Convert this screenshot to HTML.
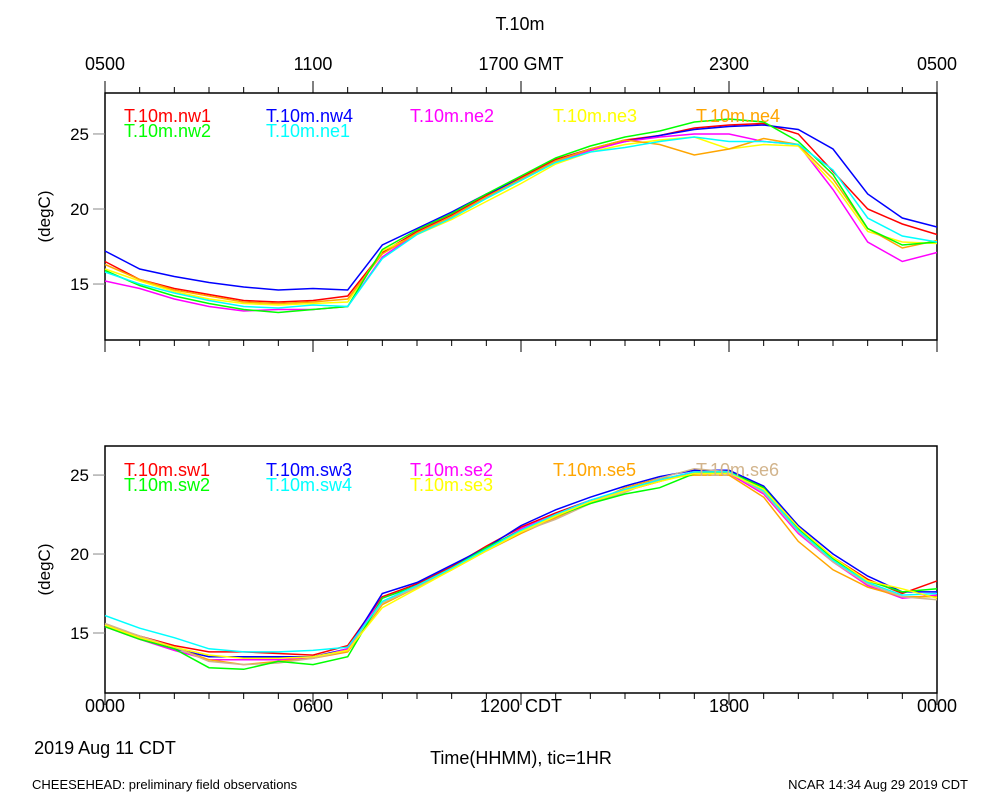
<!DOCTYPE html>
<html><head><meta charset="utf-8"><style>
body{margin:0;background:#fff;font-family:"Liberation Sans",sans-serif}
svg text{font-family:"Liberation Sans",sans-serif}
</style></head><body>
<svg id="c" width="1000" height="800" xmlns="http://www.w3.org/2000/svg">
<text x="520" y="30" font-size="18" text-anchor="middle">T.10m</text>
<g id="top"></g><g id="bot"></g>
<text x="105" y="754" font-size="18" text-anchor="middle">2019 Aug 11 CDT</text>
<text x="521" y="764" font-size="18" text-anchor="middle">Time(HHMM), tic=1HR</text>
<text x="32" y="789" font-size="13">CHEESEHEAD: preliminary field observations</text>
<text x="968" y="789" font-size="13" text-anchor="end">NCAR 14:34 Aug 29 2019 CDT</text>
</svg>
<script>
const hours=[0,1,2,3,4,5,6,7,8,9,10,11,12,13,14,15,16,17,18,19,20,21,22,23,24];
const topLabels=["0500","1100","1700 GMT","2300","0500"];
const botLabels=["0000","0600","1200 CDT","1800","0000"];
const yTicks=[15,20,25];
const topNames=["T.10m.nw1","T.10m.nw4","T.10m.ne2","T.10m.ne3","T.10m.ne4","T.10m.nw2","T.10m.ne1"];
const topColors=["#ff0000","#0000ff","#ff00ff","#ffff00","#ffa500","#00ff00","#00ffff"];
const nw1=[16.5,15.3,14.7,14.3,13.9,13.8,13.9,14.2,17.1,18.5,19.6,20.9,22.1,23.3,24.0,24.6,24.9,25.4,25.6,25.7,25.0,22.5,20.0,19.0,18.3];
const nw4=[17.2,16.0,15.5,15.1,14.8,14.6,14.7,14.6,17.6,18.7,19.8,21.0,22.0,23.2,24.0,24.5,24.9,25.3,25.5,25.6,25.3,24.0,21.0,19.4,18.8];
const ne2=[15.2,14.7,14.0,13.5,13.2,13.3,13.3,13.5,16.8,18.4,19.5,20.8,22.0,23.2,23.9,24.5,24.8,25.0,25.0,24.5,24.3,21.3,17.8,16.5,17.1];
const ne3=[16.0,15.2,14.5,14.0,13.7,13.6,13.7,13.8,17.2,18.3,19.3,20.5,21.7,23.0,23.8,24.3,24.6,24.8,24.0,24.3,24.2,21.7,18.5,17.8,17.7];
const ne4=[16.3,15.3,14.6,14.2,13.8,13.7,13.8,14.0,17.0,18.4,19.5,20.8,22.0,23.2,24.0,24.6,24.3,23.6,24.0,24.7,24.3,22.0,18.7,17.4,17.9];
const nw2=[15.9,14.9,14.2,13.7,13.3,13.1,13.3,13.5,17.3,18.6,19.7,21.0,22.2,23.4,24.2,24.8,25.2,25.8,26.0,25.8,24.5,22.3,18.7,17.6,17.8];
const ne1=[15.8,15.0,14.4,13.9,13.5,13.4,13.6,13.5,16.7,18.3,19.4,20.7,21.9,23.1,23.8,24.1,24.5,24.8,24.5,24.5,24.3,22.6,19.4,18.2,17.8];
const topSeries=[nw1,nw4,ne2,ne3,ne4,nw2,ne1];
const botNames=["T.10m.sw1","T.10m.sw3","T.10m.se2","T.10m.se5","T.10m.se6","T.10m.sw2","T.10m.sw4","T.10m.se3"];
const botColors=["#ff0000","#0000ff","#ff00ff","#ffa500","#d2b48c","#00ff00","#00ffff","#ffff00"];
const sw1=[15.5,14.8,14.2,13.8,13.8,13.7,13.6,14.2,17.3,18.1,19.2,20.5,21.7,22.6,23.4,24.0,24.6,25.2,25.3,24.2,21.6,19.8,18.4,17.5,18.3];
const sw3=[15.5,14.7,14.0,13.5,13.5,13.5,13.5,14.0,17.5,18.2,19.3,20.4,21.8,22.8,23.6,24.3,24.9,25.3,25.3,24.3,21.8,20.0,18.6,17.6,17.6];
const se2=[15.4,14.6,13.9,13.3,13.3,13.3,13.4,14.0,17.2,18.0,19.1,20.3,21.6,22.5,23.4,24.0,24.7,25.2,25.1,23.8,21.3,19.5,18.0,17.2,17.4];
const se5=[15.5,14.7,14.1,13.3,13.0,13.2,13.4,13.8,16.8,17.9,19.0,20.2,21.3,22.3,23.2,24.2,24.8,25.0,25.0,23.6,20.8,19.0,17.9,17.3,17.3];
const se6=[15.6,14.8,14.1,13.2,13.0,13.1,13.4,13.9,16.9,17.9,19.0,20.2,21.4,22.2,23.2,23.9,24.8,25.4,25.2,23.9,21.4,19.5,18.1,17.3,17.1];
const sw2=[15.4,14.6,14.0,12.8,12.7,13.2,13.0,13.5,17.2,18.0,19.1,20.4,21.5,22.4,23.2,23.8,24.2,25.1,25.2,24.2,21.6,19.7,18.3,17.6,17.8];
const sw4=[16.1,15.3,14.7,14.0,13.8,13.8,13.9,14.1,17.0,18.0,19.1,20.3,21.5,22.5,23.4,24.1,24.7,25.2,25.2,24.0,21.5,19.6,18.2,17.4,17.5];
const se3=[15.5,14.7,14.1,13.6,13.4,13.4,13.5,13.9,16.6,17.8,19.0,20.2,21.4,22.4,23.3,24.0,24.6,25.1,25.1,24.1,21.7,19.8,18.3,17.8,17.2];
const botSeries=[sw1,sw3,se2,se5,se6,sw2,sw4,se3];
const legX=[124,266,410,553,696,124,266,410];

const NS="http://www.w3.org/2000/svg";
function mk(parent,tag,attrs){const e=document.createElementNS(NS,tag);for(const k in attrs)e.setAttribute(k,attrs[k]);parent.appendChild(e);return e;}
const X0=105,X1=937;
function xs(h){return X0+(X1-X0)*h/24;}
function panel(g,top,bottom,ymin,ymax,names,colors,series,labelsTop,labelsBot,legY,pname){
  const ys=v=>bottom-(v-ymin)/(ymax-ymin)*(bottom-top);
  let r=mk(g,'rect',{x:X0,y:top,width:X1-X0,height:bottom-top,fill:'none',stroke:'#000','stroke-width':1.5});
  
  
  for(let h=0;h<=24;h++){
    const L=h%6==0?12:6;
    let t=mk(g,'line',{x1:xs(h),x2:xs(h),y1:bottom,y2:bottom+L,stroke:'#000','stroke-width':1});
    
    
    if(labelsTop){let t2=mk(g,'line',{x1:xs(h),x2:xs(h),y1:top,y2:top-L,stroke:'#000','stroke-width':1});
      
      }
  }
  yTicks.forEach(v=>{
    let t=mk(g,'line',{x1:X0-12,x2:X0,y1:ys(v),y2:ys(v),stroke:'#888','stroke-width':1});
    
    
    let tx=mk(g,'text',{x:X0-16,y:ys(v)+6,'font-size':17,'text-anchor':'end'});tx.textContent=v;
    
    
  });
  let yt=mk(g,'text',{x:0,y:0,'font-size':17,'text-anchor':'middle',transform:`translate(50,${(top+bottom)/2}) rotate(-90)`});yt.textContent='(degC)';
  
  
  if(labelsTop)labelsTop.forEach((s,i)=>{let tx=mk(g,'text',{x:xs(i*6),y:70,'font-size':18,'text-anchor':'middle'});tx.textContent=s;
    
    });
  if(labelsBot)labelsBot.forEach((s,i)=>{let tx=mk(g,'text',{x:xs(i*6),y:712,'font-size':18,'text-anchor':'middle'});tx.textContent=s;
    
    });
  series.forEach((s,i)=>{
    const d=s.map((v,j)=>(j?'L':'M')+xs(hours[j]).toFixed(1)+','+ys(v).toFixed(1)).join('');
    let p=mk(g,'path',{d:d,fill:'none',stroke:colors[i],'stroke-width':1.5});
    
    
  });
  names.forEach((n,i)=>{
    const row=i<5?0:1;
    let tx=mk(g,'text',{x:legX[i],y:legY+row*15,'font-size':18,fill:colors[i]});tx.textContent=n;
    
    
  });
}
panel(document.getElementById('top'),93,340,11.27,27.73,topNames,topColors,topSeries,topLabels,null,122,'top');
panel(document.getElementById('bot'),446,693,11.2,26.84,botNames,botColors,botSeries,null,botLabels,476,'bottom');
</script>
</body></html>
